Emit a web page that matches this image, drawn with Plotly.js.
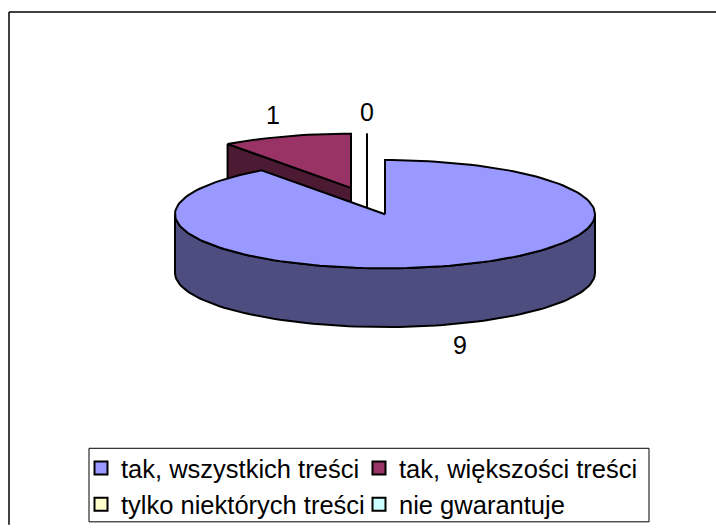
<!DOCTYPE html>
<html><head><meta charset="utf-8">
<script src="https://cdn.plot.ly/plotly-3.0.1.min.js"></script>
<style>html,body{margin:0;padding:0;background:#fff}</style></head>
<body><div id="chart" style="width:716px;height:528px"></div>
<script>
const categories = ["tak, wszystkich treści","tak, większości treści","tylko niektórych treści","nie gwarantuje"];
const values = [9,1,0,0];
const topColors = ["#9999ff","#993366","#ffffcc","#ccffff"];
const sideColors = ["#4d4d80","#4d1a33","#808066","#668080"];
const labelText = ["9","1","0",""];

// pie projection, in the pixel units of the hidden axes
const W=716, H=528, bottomMargin=30, plotH=H-bottomMargin;
const rx=210, ry=54.5, depth=59;
const centers=[[385,215.5],[351,189],[367,189],[367,189]];
const labelPos=[[460,350],[273,118],[367,115],[367,115]];
const total=values.reduce((a,b)=>a+b,0);
const pt=(c,deg,dz)=>[c[0]+rx*Math.sin(deg*Math.PI/180), c[1]-ry*Math.cos(deg*Math.PI/180)+(dz||0)];
function arc(c,a0,a1,dz){const n=Math.max(1,Math.ceil(Math.abs(a1-a0)/2));const o=[];for(let i=0;i<=n;i++)o.push(pt(c,a0+(a1-a0)*i/n,dz));return o;}
function poly(points,fill){return {type:'scatter',mode:'lines',x:points.map(p=>p[0]),y:points.map(p=>p[1]),fill:'toself',fillcolor:fill,line:{color:'#000',width:2,shape:'linear'},showlegend:false,hoverinfo:'skip'};}

const angles=[];let acc=0;values.forEach(v=>{const s=acc;acc+=v/total*360;angles.push([s,acc]);});
const traces=[];
// back slices first, the large slice last
for(const i of [1,2,3,0]){
  const c=centers[i],[a0,a1]=angles[i];
  if(i!==0){
    const p=pt(c,a0);
    traces.push(poly([p,c,[c[0],c[1]+depth],[p[0],p[1]+depth],p],sideColors[i]));
  }else{
    const f=arc(c,90,270,0),b=arc(c,270,90,depth);
    traces.push(poly(f.concat(b,[f[0]]),sideColors[i]));
  }
  traces.push(poly([c].concat(arc(c,a0,a1,0),[c]),topColors[i]));
}
// value labels
traces.push({type:'scatter',mode:'text',x:labelPos.map(p=>p[0]),y:labelPos.map(p=>p[1]),text:labelText,textposition:'middle center',textfont:{family:'Liberation Sans, Arial, sans-serif',size:25,color:'#000'},showlegend:false,hoverinfo:'skip'});
// legend entries
categories.forEach((name,i)=>traces.push({type:'scatter',mode:'markers',x:[null],y:[null],name:name,marker:{symbol:'square',size:13,color:topColors[i],line:{color:'#000',width:2}},hoverinfo:'skip'}));

const hidden={visible:false,showgrid:false,zeroline:false,fixedrange:true};
const px=x=>x/W, py=y=>(plotH-y)/plotH;
Plotly.newPlot('chart',traces,{
  width:W,height:H,margin:{l:0,r:0,t:0,b:bottomMargin},paper_bgcolor:'#fff',plot_bgcolor:'#fff',
  xaxis:Object.assign({range:[0,W]},hidden),
  yaxis:Object.assign({range:[plotH,0]},hidden),
  showlegend:true,
  legend:{orientation:'h',x:px(91),y:py(448),xanchor:'left',yanchor:'top',bgcolor:'rgba(0,0,0,0)',borderwidth:0,
    font:{family:'Liberation Sans, Arial, sans-serif',size:25.5,color:'#000'},entrywidth:243,entrywidthmode:'pixels',indentation:-10,traceorder:'normal'},
  shapes:[
    {type:'line',xref:'paper',yref:'paper',x0:px(9),y0:py(12),x1:1,y1:py(12),line:{color:'#000',width:1.5}},
    {type:'line',xref:'paper',yref:'paper',x0:px(9),y0:py(12),x1:px(9),y1:py(H),line:{color:'#000',width:1.5}},
    {type:'rect',xref:'paper',yref:'paper',x0:px(89),y0:py(451),x1:px(649),y1:py(525),line:{color:'#000',width:1},fillcolor:'#fff',layer:'below'}
  ]
},{displayModeBar:false,staticPlot:true});
</script></body></html>
